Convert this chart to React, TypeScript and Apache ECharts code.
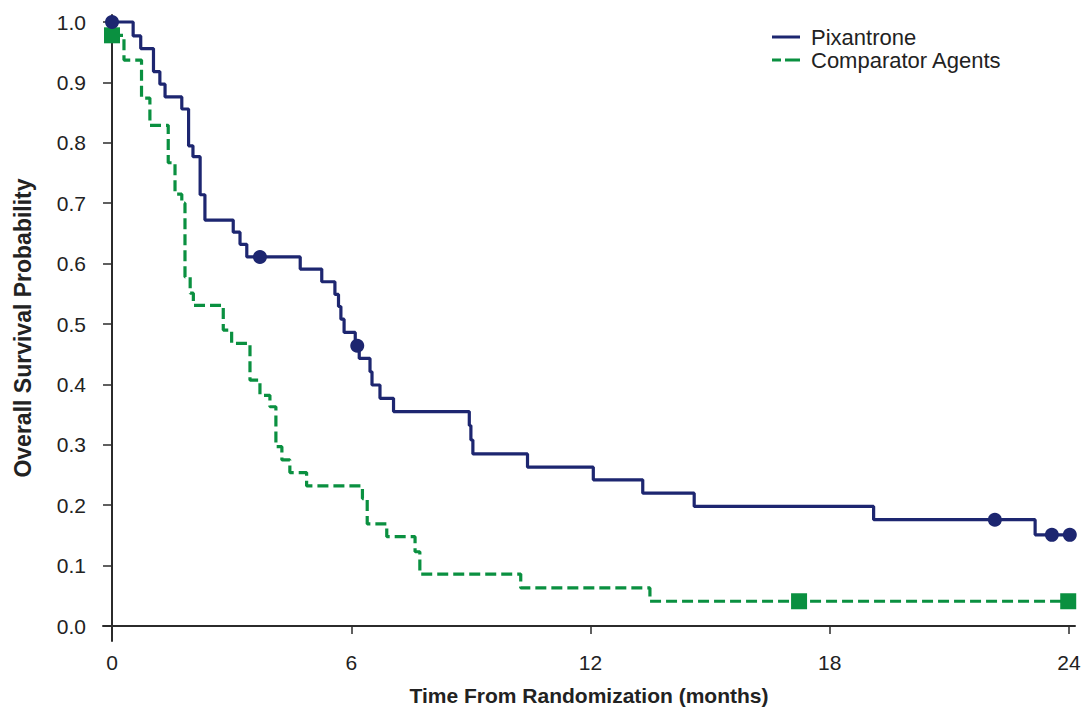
import React, { useEffect, useRef } from "react";
import * as echarts from "echarts";

// Kaplan–Meier step points: [month, survival probability after the event]
const pixantroneSteps: [number, number][] = [
  [0, 1.0], [0.53, 0.977], [0.72, 0.956], [1.04, 0.918], [1.2, 0.897], [1.33, 0.876],
  [1.75, 0.856], [1.92, 0.795], [2.03, 0.777], [2.21, 0.714], [2.33, 0.672],
  [3.04, 0.652], [3.21, 0.632], [3.38, 0.611], [4.72, 0.591], [5.26, 0.57],
  [5.59, 0.549], [5.68, 0.529], [5.74, 0.508], [5.82, 0.486], [6.1, 0.464],
  [6.2, 0.443], [6.47, 0.421], [6.52, 0.399], [6.72, 0.377], [7.06, 0.355],
  [8.96, 0.332], [9.0, 0.308], [9.05, 0.285], [10.42, 0.263], [12.07, 0.242],
  [13.31, 0.22], [14.6, 0.198], [19.1, 0.176], [23.15, 0.151], [24.02, 0.151],
];

const comparatorSteps: [number, number][] = [
  [0, 0.978], [0.3, 0.937], [0.74, 0.874], [0.95, 0.829], [1.41, 0.767],
  [1.58, 0.715], [1.75, 0.7], [1.83, 0.578], [1.96, 0.551], [2.04, 0.531],
  [2.79, 0.49], [3.0, 0.468], [3.46, 0.407], [3.71, 0.382], [3.96, 0.363],
  [4.11, 0.297], [4.26, 0.275], [4.46, 0.254], [4.88, 0.232], [6.28, 0.211],
  [6.4, 0.169], [6.89, 0.148], [7.6, 0.123], [7.72, 0.086], [10.25, 0.063],
  [13.49, 0.041], [24.0, 0.041],
];

// Censored observations
const pixantroneCensored: [number, number][] = [
  [0, 1.0], [3.71, 0.611], [6.15, 0.464], [22.14, 0.176], [23.57, 0.151], [24.02, 0.151],
];
const comparatorCensored: [number, number][] = [
  [0, 0.978], [17.23, 0.041], [23.98, 0.041],
];

const xTicks = [0, 6, 12, 18, 24];
const yTicks = [0, 0.1, 0.2, 0.3, 0.4, 0.5, 0.6, 0.7, 0.8, 0.9, 1.0];

const NAVY = "#1d2670";
const GREEN = "#0a9040";
const AXIS = "#2b2b2b";
const TEXT = "#222222";
const FONT = "Liberation Sans, Arial, sans-serif";

// Legend keys: a solid bar and a dashed bar
const SOLID_ICON = "path://M0,0h28v3h-28z";
const DASHED_ICON = "path://M0,0h9v3h-9zM13,0h15v3h-15z";

export default function App() {
  const ref = useRef<HTMLDivElement>(null);

  useEffect(() => {
    if (!ref.current) return;
    const chart = echarts.init(ref.current, undefined, { renderer: "svg" });
    chart.setOption({
      animation: false,
      backgroundColor: "#ffffff",
      grid: { left: 103, right: 13, top: 15, bottom: 72, containLabel: false },
      legend: {
        data: [
          { name: "Pixantrone", icon: SOLID_ICON },
          { name: "Comparator Agents", icon: DASHED_ICON },
        ],
        orient: "vertical",
        left: 767,
        top: 21,
        itemWidth: 28,
        itemHeight: 3,
        itemGap: 1,
        textStyle: {
          fontFamily: FONT,
          fontSize: 22,
          lineHeight: 22,
          color: TEXT,
          padding: [0, 0, 0, 6],
        },
      },
      xAxis: {
        type: "value",
        min: -0.226,
        max: 24.15,
        name: "Time From Randomization (months)",
        nameLocation: "middle",
        nameGap: 44,
        nameTextStyle: { fontFamily: FONT, fontSize: 21, fontWeight: "bold", color: TEXT },
        axisLine: { show: true, lineStyle: { color: AXIS, width: 2 } },
        axisTick: {
          show: true,
          customValues: xTicks,
          length: 8,
          lineStyle: { color: AXIS, width: 1.5 },
        },
        axisLabel: {
          customValues: xTicks,
          fontFamily: FONT,
          fontSize: 21,
          color: TEXT,
          margin: 11,
        },
        splitLine: { show: false },
      },
      yAxis: {
        type: "value",
        min: -0.0248,
        max: 1.0116,
        name: "Overall Survival Probability",
        nameLocation: "middle",
        nameGap: 69,
        nameTextStyle: { fontFamily: FONT, fontSize: 23, fontWeight: "bold", color: TEXT },
        axisLine: { show: true, lineStyle: { color: AXIS, width: 2 } },
        axisTick: {
          show: true,
          customValues: yTicks,
          length: 9,
          lineStyle: { color: AXIS, width: 1.5 },
        },
        axisLabel: {
          customValues: yTicks,
          formatter: (v: number) => v.toFixed(1),
          fontFamily: FONT,
          fontSize: 21,
          color: TEXT,
          margin: 17,
        },
        splitLine: { show: false },
      },
      series: [
        {
          name: "Pixantrone",
          type: "line",
          step: "end",
          data: pixantroneSteps,
          symbol: "none",
          lineStyle: { color: NAVY, width: 3.2 },
          itemStyle: { color: NAVY },
          z: 3,
        },
        {
          name: "Comparator Agents",
          type: "line",
          step: "end",
          data: comparatorSteps,
          symbol: "none",
          lineStyle: { color: GREEN, width: 3.2, type: [11, 5] },
          itemStyle: { color: GREEN },
          z: 2,
        },
        {
          name: "Pixantrone censored",
          type: "scatter",
          data: pixantroneCensored,
          symbol: "circle",
          symbolSize: 14,
          itemStyle: { color: NAVY, opacity: 1 },
          z: 4,
        },
        {
          name: "Comparator censored",
          type: "scatter",
          data: comparatorCensored,
          symbol: "rect",
          symbolSize: 16,
          itemStyle: { color: GREEN, opacity: 1 },
          z: 3,
        },
      ],
    });
    return () => chart.dispose();
  }, []);

  return (
    <div
      ref={ref}
      style={{ position: "fixed", left: 0, top: 0, width: 1088, height: 713, background: "#fff" }}
    />
  );
}
